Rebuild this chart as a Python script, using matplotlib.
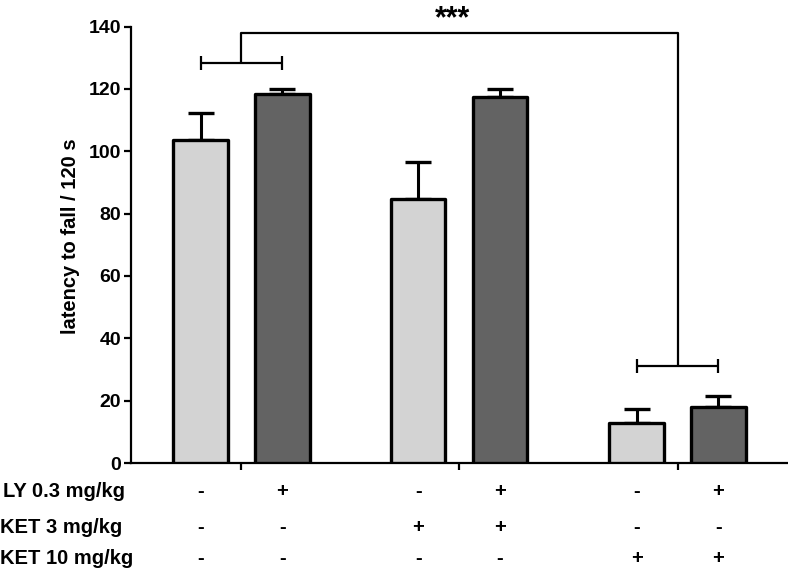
import matplotlib
matplotlib.use("Agg")
import matplotlib.pyplot as plt
import numpy as np

plt.rcParams['font.family'] = ['Liberation Sans', 'DejaVu Sans']
plt.rcParams['font.weight'] = 'bold'

# data
positions = [0, 1, 2.66, 3.66, 5.33, 6.33]
means = [103.5, 118.3, 84.6, 117.4, 12.9, 18.0]
errs = [8.7, 1.5, 11.9, 2.5, 4.4, 3.5]
colors = ['#d3d3d3', '#636363', '#d3d3d3', '#636363', '#d3d3d3', '#636363']
group_centers = [0.5, 3.16, 5.83]
row_labels = ['LY 0.3 mg/kg', 'KET 3 mg/kg', 'KET 10 mg/kg']
table = [['-', '+', '-', '+', '-', '+'],
         ['-', '-', '+', '+', '-', '-'],
         ['-', '-', '-', '-', '+', '+']]
yticks = [0, 20, 40, 60, 80, 100, 120, 140]

fig = plt.figure(figsize=(7.88, 5.70), dpi=100)
ax = fig.add_axes([131 / 788, 1 - 463 / 570, 657 / 788, (463 - 26.5) / 570])

bars = ax.bar(positions, means, width=0.666, color=colors, edgecolor='black',
              linewidth=2.4, zorder=3)
for b in bars:
    b.set_joinstyle('round')
ax.errorbar(positions, means, yerr=[np.zeros(len(errs)), errs], fmt='none',
            ecolor='black', elinewidth=2.2, capsize=9.7, capthick=2.4, zorder=2)

ax.set_xlim(-0.85, 7.18)
ax.set_ylim(0, 140)
ax.set_yticks(yticks)
ax.set_yticklabels([str(v) for v in yticks], fontsize=14, fontweight='bold')
ax.set_xticks(group_centers)
ax.set_xticklabels([])
for s in ['top', 'right']:
    ax.spines[s].set_visible(False)
for s in ['left', 'bottom']:
    ax.spines[s].set_linewidth(1.6)
ax.tick_params(axis='both', direction='out', length=5, width=1.6, pad=2)
ax.set_ylabel('latency to fall / 120 s', fontsize=14.5, fontweight='bold', va='center')
ax.yaxis.set_label_coords((70 - 131) / 657, (463 - 236) / (463 - 26.5))

# brackets
kw = dict(color='black', lw=1.6, clip_on=False, solid_capstyle='butt')
tick_h = 2.2
# left bracket
yl = 128.2
ax.plot([positions[0], positions[1]], [yl, yl], **kw)
ax.plot([positions[0]] * 2, [yl - tick_h, yl + tick_h], **kw)
ax.plot([positions[1]] * 2, [yl - tick_h, yl + tick_h], **kw)
# right bracket
yr = 31.1
ax.plot([positions[4], positions[5]], [yr, yr], **kw)
ax.plot([positions[4]] * 2, [yr - tick_h, yr + tick_h], **kw)
ax.plot([positions[5]] * 2, [yr - tick_h, yr + tick_h], **kw)
# top connecting bracket
ytop = 137.8
xl = group_centers[0]
xr = group_centers[2]
ax.plot([xl, xl, xr, xr], [yl, ytop, ytop, yr], **kw)
ax.text(3.08, 139.9, '***', ha='center', va='baseline',
        fontsize=22, fontweight='bold', clip_on=False)

# treatment table
row_base = [497, 533, 564]
row_x = [3, 0, 0]
for r, lab in enumerate(row_labels):
    yf = 1 - row_base[r] / 570
    fig.text(row_x[r] / 788, yf, lab, ha='left', va='baseline', fontsize=14.5,
             fontweight='bold')
    for c, sym in enumerate(table[r]):
        xd = ax.transData.transform((positions[c], 0))[0] / fig.bbox.width
        fig.text(xd, yf, sym, ha='center', va='baseline', fontsize=14.5,
                 fontweight='bold')

fig.savefig('out.png', dpi=100)
